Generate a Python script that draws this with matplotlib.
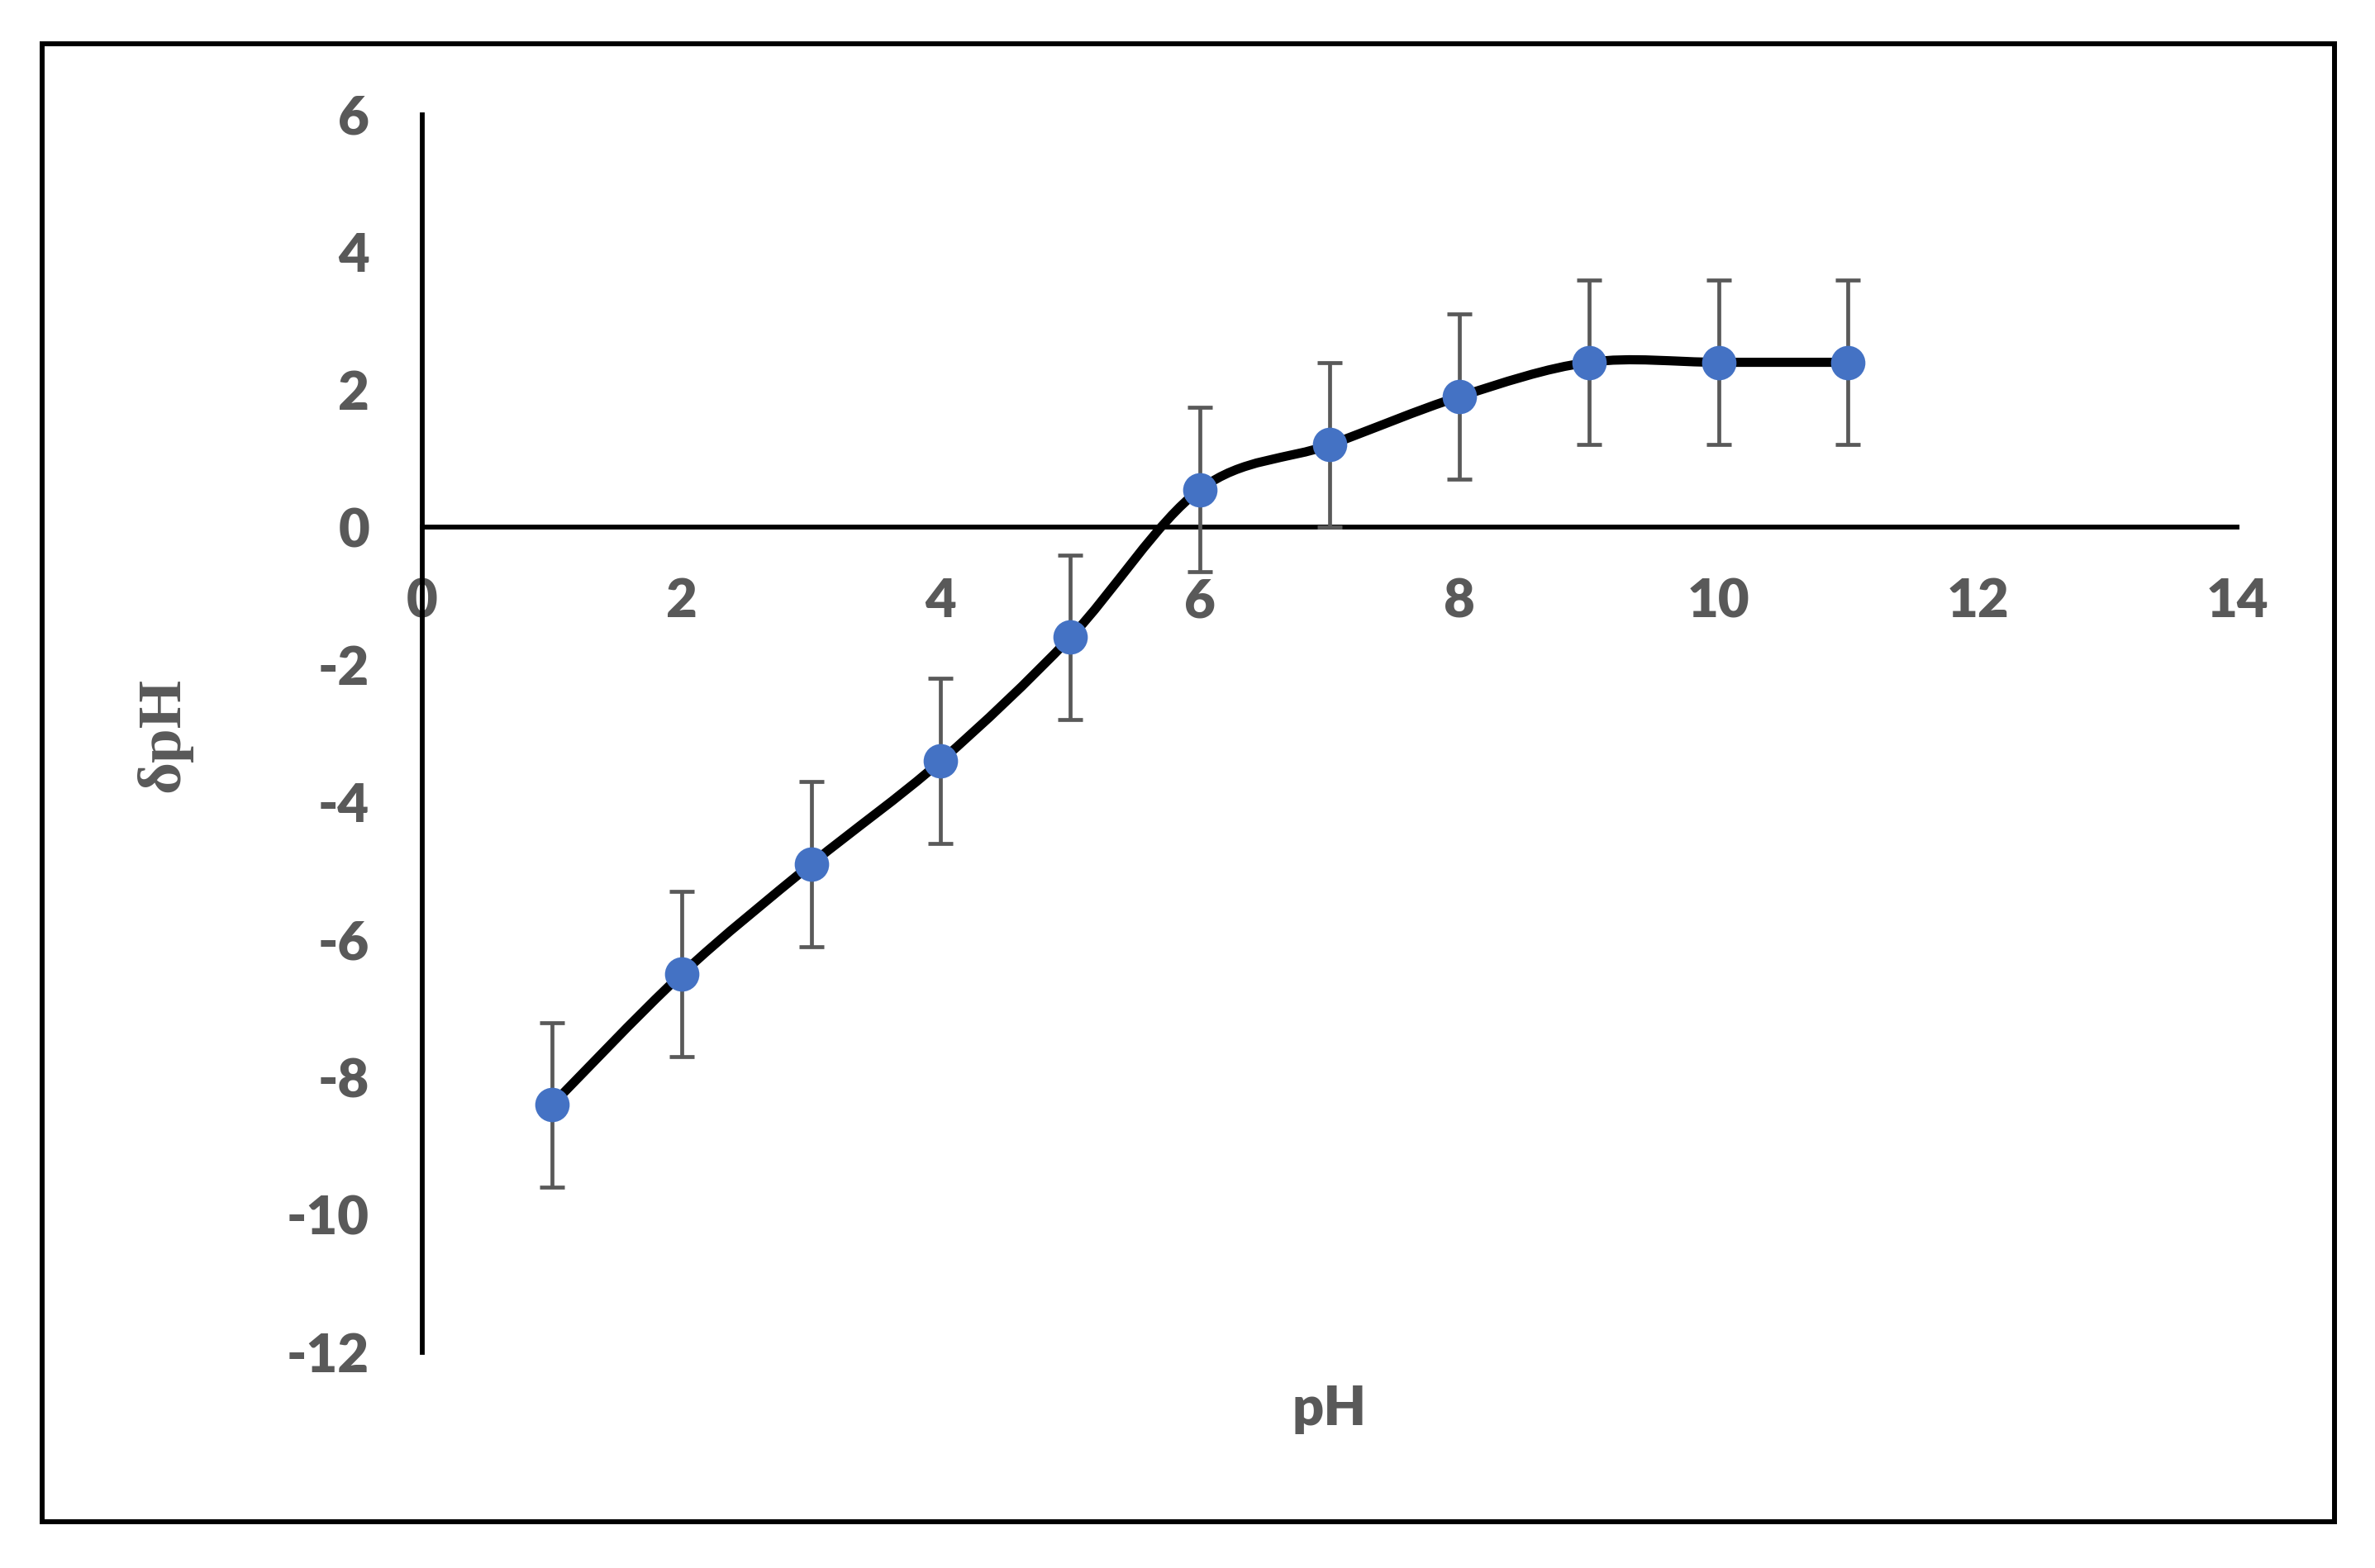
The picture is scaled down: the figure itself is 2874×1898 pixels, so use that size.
import numpy as np
import matplotlib
matplotlib.use("Agg")
import matplotlib.pyplot as plt
from matplotlib.path import Path
from matplotlib.patches import PathPatch, Rectangle

plt.rcParams['axes.unicode_minus'] = False

# data
ph = [1, 2, 3, 4, 5, 6, 7, 8, 9, 10, 11]
dph = [-8.4, -6.5, -4.9, -3.4, -1.6, 0.55, 1.2, 1.9, 2.4, 2.4, 2.4]
err = [1.2, 1.2, 1.2, 1.2, 1.2, 1.2, 1.2, 1.2, 1.2, 1.2, 1.2]
xticks = [0, 2, 4, 6, 8, 10, 12, 14]
yticks = [-12, -10, -8, -6, -4, -2, 0, 2, 4, 6]

grey = '#595959'
blue = '#4472C4'


def smooth_path(x, y):
    # Excel-like smoothed line: Catmull-Rom segments as cubic Beziers
    p = np.column_stack([x, y]).astype(float)
    ext = np.vstack([p[0], p, p[-1]])
    verts = [p[0]]
    codes = [Path.MOVETO]
    for i in range(len(p) - 1):
        p0, p1, p2, p3 = ext[i], ext[i + 1], ext[i + 2], ext[i + 3]
        c1 = p1 + (p2 - p0) / 6
        c2 = p2 - (p3 - p1) / 6
        verts += [c1, c2, p2]
        codes += [Path.CURVE4] * 3
    return Path(verts, codes)


fig = plt.figure(figsize=(28.74, 18.98), dpi=100)
ax = fig.add_axes([0.1778, 0.1375, 0.9419 - 0.1778, 0.9268 - 0.1375])

# outer frame
fig.patches.append(Rectangle((0.01775, 0.0295), 0.9652, 0.9426, transform=fig.transFigure,
                             fill=False, lw=4.3, ec='black', zorder=0))

ax.add_patch(PathPatch(smooth_path(ph, dph), fill=False, lw=8, ec='black',
                       capstyle='round', joinstyle='round', zorder=2))
ax.errorbar(ph, dph, yerr=err, fmt='none', ecolor=grey, elinewidth=3.4,
            capsize=11, capthick=3.4, zorder=3)
ax.plot(ph, dph, 'o', ms=30, color=blue, mec='none', zorder=4)

ax.set_xlim(0, 14)
ax.set_ylim(-12, 6)
ax.set_xticks(xticks)
ax.set_yticks(yticks)
ax.set_xticklabels([str(t) for t in xticks])
ax.set_yticklabels([str(t) for t in yticks])

for s in ['top', 'right']:
    ax.spines[s].set_visible(False)
ax.spines['bottom'].set_position(('data', 0))
ax.spines['left'].set_position(('data', 0))
ax.spines['bottom'].set_linewidth(4.2)
ax.spines['left'].set_linewidth(4.2)
ax.tick_params(axis='both', length=0, labelsize=47, labelcolor=grey)
ax.tick_params(axis='x', pad=44)
ax.tick_params(axis='y', pad=46)
for lab in ax.get_xticklabels() + ax.get_yticklabels():
    lab.set_fontfamily('Lato')
    lab.set_fontweight('heavy')

fig.text(0.5596, 1 - 1705 / 1898, 'pH', ha='center', va='center', fontsize=48,
         fontweight='heavy', color=grey, family='Lato')
fig.text(198 / 2874, 1 - 889 / 1898, 'δpH', ha='center', va='center', rotation=90,
         fontsize=54, fontweight='bold', color=grey, family='Liberation Serif')

fig.savefig('out.png', dpi=100)
